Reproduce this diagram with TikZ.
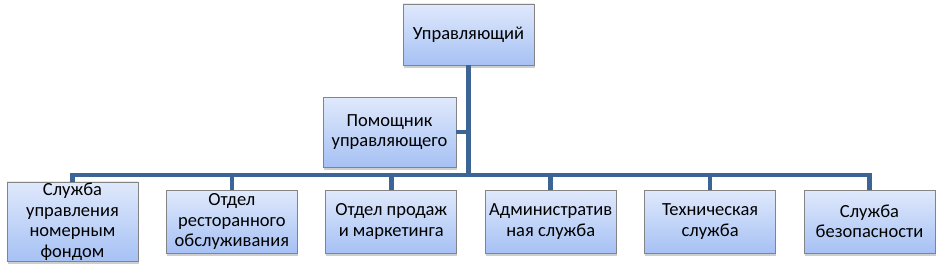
\documentclass[tikz,border=0pt]{standalone}
\usepackage{fontspec}
\setmainfont{Carlito}
\usetikzlibrary{positioning, shadows}
\definecolor{LineBlue}{RGB}{60,100,148}
\definecolor{BoxTop}{RGB}{224,233,252}
\definecolor{BoxBot}{RGB}{166,193,244}
\definecolor{BoxEdge}{RGB}{132,132,132}

\begin{document}
\begin{tikzpicture}[
    x=1pt, y=1pt,
    node distance=0pt and 27.6pt,
    orgbox/.style={
        draw=BoxEdge,
        line width=0.8pt,
        top color=BoxTop,
        bottom color=BoxBot,
        minimum width=131pt,
        minimum height=63pt,
        align=center,
        font=\fontsize{18.5}{20.5}\selectfont,
        inner sep=1pt,
        drop shadow={shadow xshift=0.6pt, shadow yshift=-2.6pt,
            opacity=0.35, fill=black!55}
    },
    link/.style={draw=LineBlue, line width=4.5pt}
]
\useasboundingbox (0,0) rectangle (940,-270);

% TOP
\node[orgbox, minimum height=61pt] (mgr) at (468.5,-34.5) {Управляющий};

\node[orgbox, minimum width=133pt, minimum height=70pt] (asst) at (389.5,-132)
{Помощник\\управляющего};

% DEPARTMENTS
\node[orgbox] (rooms) at (72.5,-221.5) {Служба\\управления\\номерным\\фондом};
\node[orgbox, right=of rooms] (rest) {Отдел\\ресторанного\\обслуживания};
\node[orgbox, right=of rest] (sales) {Отдел продаж\\и маркетинга};
\node[orgbox, right=of sales] (admin) {Административ\\ная служба};
\node[orgbox, right=of admin] (tech) {Техническая\\служба};
\node[orgbox, right=of tech] (sec) {Служба\\безопасности};

\coordinate (bar) at (0,-175);

% CONNECTIONS
\draw[link] (mgr.south) -- (mgr.south |- bar);
\draw[link] (asst.east) -- (asst.east -| mgr.south);
\draw[link] (rooms.north) -- (rooms.north |- bar) -- (sec.north |- bar) -- (sec.north);
\foreach \d in {rest, sales, admin, tech}
    \draw[link] (\d.north |- bar) -- (\d.north);

\end{tikzpicture}
\end{document}
